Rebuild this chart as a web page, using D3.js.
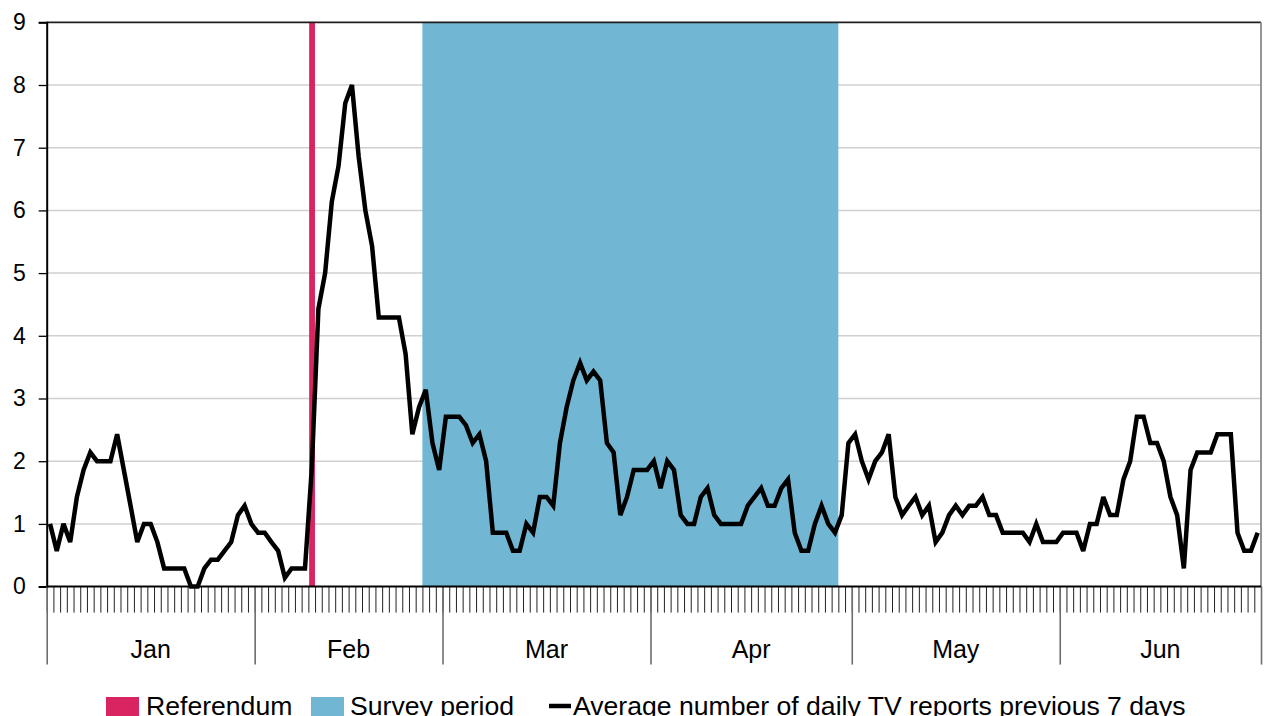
<!DOCTYPE html>
<html>
<head>
<meta charset="utf-8">
<script src="https://cdn.jsdelivr.net/npm/d3@7"></script>
<style>
  html, body { margin: 0; padding: 0; background: #fff; }
  svg { display: block; font-family: "Liberation Sans", Arial, sans-serif; }
</style>
</head>
<body>
<svg id="chart" width="1267" height="716"></svg>
<script>
// Months shown on the category axis and their lengths (2014)
const months = ["Jan", "Feb", "Mar", "Apr", "May", "Jun"];
const monthDays = [31, 28, 31, 30, 31, 30];

// Average number of daily TV reports over the previous 7 days, one value per day
const reportsJan = [1.00, 0.57, 1.00, 0.71, 1.43, 1.86, 2.14, 2.00, 2.00, 2.00, 2.43, 1.86, 1.29, 0.71, 1.00, 1.00,
                    0.71, 0.29, 0.29, 0.29, 0.29, 0.00, 0.00, 0.29, 0.43, 0.43, 0.57, 0.71, 1.14, 1.29, 1.00];
const reportsFeb = [0.86, 0.86, 0.71, 0.57, 0.14, 0.29, 0.29, 0.29, 1.86, 4.43, 5.00, 6.14, 6.71, 7.71, 8.00, 6.86,
                    6.00, 5.43, 4.29, 4.29, 4.29, 4.29, 3.71, 2.43, 2.86, 3.14, 2.29, 1.86];
const reportsMar = [2.71, 2.71, 2.71, 2.57, 2.29, 2.43, 2.00, 0.86, 0.86, 0.86, 0.57, 0.57, 1.00, 0.86, 1.43, 1.43,
                    1.29, 2.29, 2.86, 3.29, 3.57, 3.29, 3.43, 3.29, 2.29, 2.14, 1.14, 1.43, 1.86, 1.86, 1.86];
const reportsApr = [2.00, 1.57, 2.00, 1.86, 1.14, 1.00, 1.00, 1.43, 1.57, 1.14, 1.00, 1.00, 1.00, 1.00, 1.29, 1.43,
                    1.57, 1.29, 1.29, 1.57, 1.71, 0.86, 0.57, 0.57, 1.00, 1.29, 1.00, 0.86, 1.14, 2.29];
const reportsMay = [2.43, 2.00, 1.71, 2.00, 2.14, 2.43, 1.43, 1.14, 1.29, 1.43, 1.14, 1.29, 0.71, 0.86, 1.14, 1.29,
                    1.14, 1.29, 1.29, 1.43, 1.14, 1.14, 0.86, 0.86, 0.86, 0.86, 0.71, 1.00, 0.71, 0.71, 0.71];
const reportsJun = [0.86, 0.86, 0.86, 0.57, 1.00, 1.00, 1.43, 1.14, 1.14, 1.71, 2.00, 2.71, 2.71, 2.29, 2.29, 2.00,
                    1.43, 1.14, 0.29, 1.86, 2.14, 2.14, 2.14, 2.43, 2.43, 2.43, 0.86, 0.57, 0.57, 0.86];

// Highlighted events: referendum day and the survey period (month index, day of month)
const referendumDay = [1, 9];
const surveyPeriod = [[1, 26], [3, 28]];

const yTicks = [0, 1, 2, 3, 4, 5, 6, 7, 8, 9];

const legendLabels = ["Referendum", "Survey period", "Average number of daily TV reports previous 7 days"];

const colors = { referendum: "#d92462", survey: "#71b7d4", line: "#000000" };

// ---- derived day categories ----
const days = [];
months.forEach((m, mi) => {
  for (let d = 1; d <= monthDays[mi]; d++) days.push(m + " " + d);
});
const reports = [].concat(reportsJan, reportsFeb, reportsMar, reportsApr, reportsMay, reportsJun);
const dayIndex = ([mi, d]) => d3.sum(monthDays.slice(0, mi)) + d - 1;

// ---- layout ----
const plot = { left: 46.7, right: 1261, top: 22.3, bottom: 586.6 };
const svg = d3.select("#chart");

const x = d3.scaleBand().domain(days).range([plot.left, plot.right]).paddingInner(0).paddingOuter(0);
const xEdge = d3.scaleLinear().domain([0, days.length]).range([plot.left, plot.right]);
const y = d3.scaleLinear().domain([0, 9]).range([plot.bottom, plot.top]);

// gridlines
svg.append("g")
  .selectAll("line")
  .data(yTicks.filter(t => t > 0 && t < 9))
  .join("line")
  .attr("x1", plot.left).attr("x2", plot.right)
  .attr("y1", d => y(d)).attr("y2", d => y(d))
  .attr("stroke", "#d0d0d0").attr("stroke-width", 1.5);

// survey period band
const s0 = days[dayIndex(surveyPeriod[0])];
const s1 = days[dayIndex(surveyPeriod[1])];
svg.append("rect")
  .attr("x", x(s0))
  .attr("y", y(9))
  .attr("width", x(s1) + x.bandwidth() - x(s0))
  .attr("height", y(0) - y(9))
  .attr("fill", colors.survey);

// referendum day bar
const rDay = days[dayIndex(referendumDay)];
svg.append("rect")
  .attr("x", x(rDay) + 0.8)
  .attr("y", y(9))
  .attr("width", x.bandwidth() - 0.9)
  .attr("height", y(0) - y(9))
  .attr("fill", colors.referendum);

// plot frame: top and right
svg.append("line")
  .attr("x1", plot.left).attr("x2", plot.right)
  .attr("y1", y(9)).attr("y2", y(9))
  .attr("stroke", "#1e1e1e").attr("stroke-width", 1.8);
svg.append("line")
  .attr("x1", plot.right).attr("x2", plot.right)
  .attr("y1", y(9)).attr("y2", y(0))
  .attr("stroke", "#8a8a8a").attr("stroke-width", 1.8);

// y axis
const yAxis = svg.append("g")
  .attr("transform", `translate(${plot.left},0)`)
  .call(d3.axisLeft(y).tickValues(yTicks).tickSize(8).tickPadding(13).tickFormat(d3.format("d")));
yAxis.select(".domain").attr("stroke", "#000").attr("stroke-width", 2);
yAxis.selectAll(".tick line").attr("stroke", "#000").attr("stroke-width", 1.3);
yAxis.selectAll(".tick text").attr("font-size", 23).attr("fill", "#000")
  .attr("font-family", "Liberation Sans, Arial, sans-serif");

// x axis: daily ticks at category boundaries
const xAxis = svg.append("g")
  .attr("transform", `translate(0,${plot.bottom})`)
  .call(d3.axisBottom(xEdge).tickValues(d3.range(0, days.length + 1)).tickSize(26).tickFormat(""));
xAxis.select(".domain").remove();
xAxis.selectAll(".tick line").attr("stroke", "#222").attr("stroke-width", 1);

// month separators
const monthStarts = [0, ...d3.cumsum(monthDays)];
const mAxis = svg.append("g")
  .attr("transform", `translate(0,${plot.bottom})`)
  .call(d3.axisBottom(xEdge).tickValues(monthStarts).tickSize(78).tickFormat(""));
mAxis.select(".domain").remove();
mAxis.selectAll(".tick line").attr("stroke", "#6e6e6e").attr("stroke-width", 1.6);

// x axis baseline
svg.append("line")
  .attr("x1", plot.left).attr("x2", plot.right)
  .attr("y1", plot.bottom).attr("y2", plot.bottom)
  .attr("stroke", "#000").attr("stroke-width", 2);

// month labels
svg.append("g")
  .selectAll("text")
  .data(months)
  .join("text")
  .attr("x", (d, i) => (xEdge(monthStarts[i]) + xEdge(monthStarts[i + 1])) / 2)
  .attr("y", 658)
  .attr("text-anchor", "middle")
  .attr("font-size", 25)
  .attr("fill", "#000")
  .text(d => d);

// the 7-day average line
const line = d3.line()
  .x((d, i) => x(days[i]) + x.bandwidth() / 2)
  .y(d => y(d));
svg.append("path")
  .datum(reports)
  .attr("d", line)
  .attr("fill", "none")
  .attr("stroke", colors.line)
  .attr("stroke-width", 4.5)
  .attr("stroke-linejoin", "miter")
  .attr("stroke-miterlimit", 3);

// legend
const legend = svg.append("g").attr("font-size", 26.6).attr("fill", "#000");
legend.append("rect").attr("x", 106).attr("y", 697).attr("width", 33).attr("height", 19).attr("fill", colors.referendum);
legend.append("text").attr("x", 146).attr("y", 715).text(legendLabels[0]);
legend.append("rect").attr("x", 311).attr("y", 697).attr("width", 33).attr("height", 19).attr("fill", colors.survey);
legend.append("text").attr("x", 350).attr("y", 715).text(legendLabels[1]);
legend.append("line").attr("x1", 549).attr("x2", 571).attr("y1", 706).attr("y2", 706)
  .attr("stroke", colors.line).attr("stroke-width", 4.5);
legend.append("text").attr("x", 573).attr("y", 715).text(legendLabels[2]);
</script>
</body>
</html>
